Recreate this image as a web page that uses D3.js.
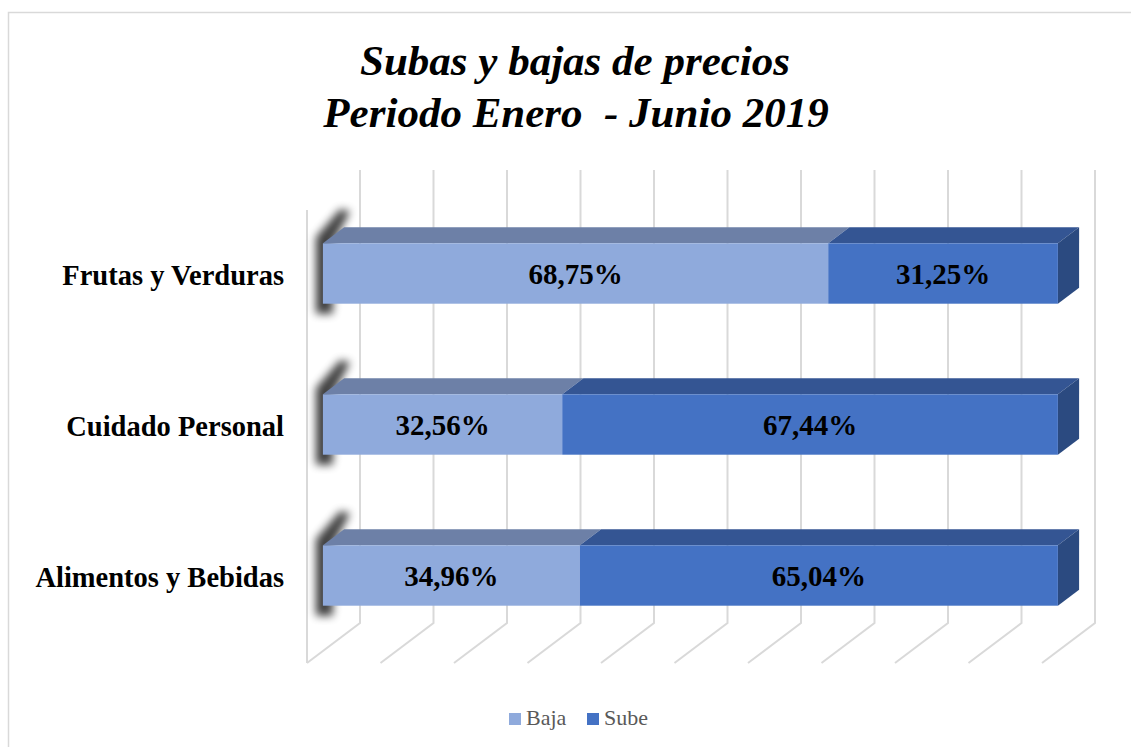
<!DOCTYPE html>
<meta charset="utf-8">
<style>
    body {margin: 0; background: #fff;}
    svg {font-family: 'Liberation Serif', 'Times New Roman', Times, serif;}
</style>
<body>
<svg width="1131" height="747"></svg>
<script src="https://d3js.org/d3.v7.min.js"></script>
<script>

var categories = ["Frutas y Verduras", "Cuidado Personal", "Alimentos y Bebidas"];
var seriesNames = ["Baja", "Sube"];
var baja = [0.6875, 0.3256, 0.3496];
var sube = [0.3125, 0.6744, 0.6504];
var gridTicks = [0, 0.1, 0.2, 0.3, 0.4, 0.5, 0.6, 0.7, 0.8, 0.9, 1];

var svg = d3.select("svg"),
    width = +svg.attr("width"),
    height = +svg.attr("height");

// depth of the 3d box: going from the front edge to the back wall
var depthX = 53, depthY = -40;
var barZ0 = 0.3, barZ1 = 0.7;

var colors = {
  Baja: {front: "#8faadc", top: "#6d80a7", side: "#5d6f93"},
  Sube: {front: "#4472c4", top: "#345593", side: "#2b4a80"}
};

// x at the front edge of the floor
var x = d3.scaleLinear().domain([0, 1]).range([307, 1042]);
// y at the front plane
var y = d3.scaleBand().domain(categories).range([210, 663]).paddingInner(0.6).paddingOuter(0.3);

function px(v, z) { return x(v) + z * depthX; }
function py(yy, z) { return yy + z * depthY; }

svg.append("rect")
    .attr("x", 8.5).attr("y", 12.5)
    .attr("width", width).attr("height", height)
    .style("fill", "none").style("stroke", "#d9d9d9").style("stroke-width", "1.5px");

var defs = svg.append("defs");
defs.append("filter").attr("id", "blur")
    .attr("x", "-100%").attr("y", "-50%").attr("width", "300%").attr("height", "200%")
  .append("feGaussianBlur").attr("stdDeviation", 4);

// gridlines
var plotTop = y.range()[0], plotBottom = y.range()[1];
var grid = svg.append("g").style("stroke", "#d9d9d9").style("stroke-width", "2px").style("fill", "none");
grid.selectAll("path")
    .data(gridTicks)
    .enter().append("path")
    .attr("d", function(d) {
      return "M" + px(d, 1) + "," + py(plotTop, 1) +
             "L" + px(d, 1) + "," + py(plotBottom, 1) +
             "L" + px(d, 0) + "," + py(plotBottom, 0);
    });
grid.append("line")
    .attr("x1", px(0, 0)).attr("y1", plotTop)
    .attr("x2", px(0, 0)).attr("y2", plotBottom);

// stacked data
var rows = categories.map(function(c, i) { return {cat: c, Baja: baja[i], Sube: sube[i]}; });
var stack = d3.stack().keys(seriesNames)(rows);

var bars = svg.append("g");

// soft shadow at the left end of each bar
bars.selectAll("path.shadow")
    .data(rows)
    .enter().append("path")
    .attr("class", "shadow")
    .attr("filter", "url(#blur)")
    .style("fill", "#000")
    .style("opacity", 0.75)
    .attr("d", function(d) {
      var yf = py(y(d.cat), barZ0), yb = py(y(d.cat), barZ1), y1 = yf + y.bandwidth();
      var a = px(0, barZ0), b = px(0, barZ1);
      return "M" + (a - 7) + "," + (y1 + 10) +
             "L" + (a - 7) + "," + (yf - 6) +
             "L" + (b - 4) + "," + (yb - 18) +
             "L" + (b + 6) + "," + (yb - 16) +
             "L" + (a + 10) + "," + yf +
             "L" + (a + 10) + "," + (y1 + 10) + "Z";
    });

stack.forEach(function(layer) {
  var key = layer.key;
  var g = bars.append("g");
  layer.forEach(function(seg) {
    var cat = seg.data.cat;
    var y0 = py(y(cat), barZ0), y1 = y0 + y.bandwidth();
    var dz = barZ1 - barZ0;
    var x0 = px(seg[0], barZ0), x1 = px(seg[1], barZ0);
    var ox = dz * depthX, oy = dz * depthY;
    // top face
    g.append("path")
        .style("fill", colors[key].top)
        .attr("d", "M" + x0 + "," + y0 + "L" + (x0 + ox) + "," + (y0 + oy) +
                   "L" + (x1 + ox) + "," + (y0 + oy) + "L" + x1 + "," + y0 + "Z");
    // right face (only the last segment shows it)
    if (seg[1] >= 0.9999) {
      g.append("path")
          .style("fill", colors[key].side)
          .attr("d", "M" + x1 + "," + y0 + "L" + (x1 + ox) + "," + (y0 + oy) +
                     "L" + (x1 + ox) + "," + (y1 + oy) + "L" + x1 + "," + y1 + "Z");
    }
    // front face
    g.append("rect")
        .attr("x", x0).attr("y", y0)
        .attr("width", x1 - x0).attr("height", y1 - y0)
        .style("fill", colors[key].front);
    g.append("text")
        .attr("x", (x0 + x1) / 2)
        .attr("y", (y0 + y1) / 2)
        .attr("dy", "0.35em")
        .attr("text-anchor", "middle")
        .style("font-size", "29px").style("font-weight", "bold").style("fill", "#000")
        .text(d3.format(".2f")((seg[1] - seg[0]) * 100).replace(".", ",") + "%");
  });
});

// category labels
svg.append("g").selectAll("text")
    .data(categories)
    .enter().append("text")
    .attr("x", 284)
    .attr("y", function(d) { return py(y(d), barZ0) + y.bandwidth() / 2 + 2; })
    .attr("dy", "0.35em")
    .attr("text-anchor", "end")
    .style("font-size", "28.5px").style("font-weight", "bold").style("fill", "#000")
    .text(function(d) { return d; });

// title
var title = svg.append("text")
    .attr("text-anchor", "middle")
    .style("font-size", "43px").style("font-weight", "bold").style("font-style", "italic");
title.append("tspan").attr("x", 575).attr("y", 75).text("Subas y bajas de precios");
title.append("tspan").attr("x", 576).attr("y", 127).text("Periodo Enero\u00a0 - Junio 2019");

// legend
var legend = svg.append("g").selectAll("g")
    .data(seriesNames)
    .enter().append("g")
    .attr("transform", function(d, i) { return "translate(" + (509 + i * 78) + ",713)"; });
legend.append("rect").attr("width", 12).attr("height", 12)
    .style("fill", function(d) { return colors[d].front; });
legend.append("text").attr("x", 17).attr("y", 12)
    .style("font-size", "22px").style("fill", "#595959")
    .text(function(d) { return d; });

</script>
</body>
